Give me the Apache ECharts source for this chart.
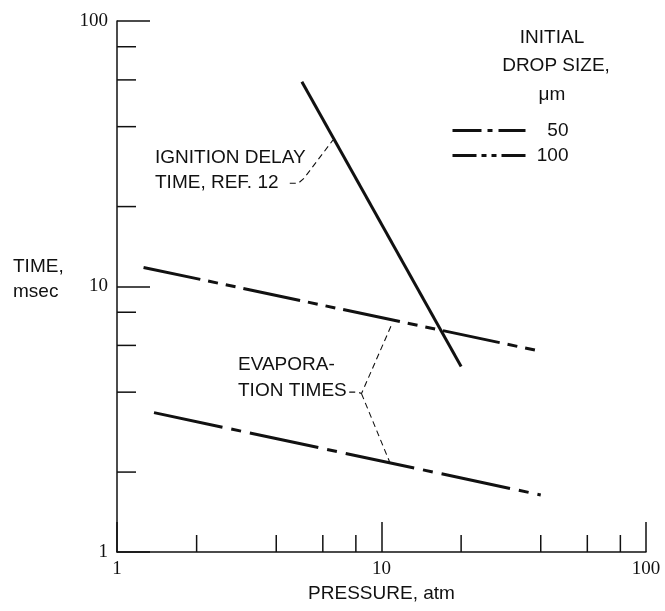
<!DOCTYPE html>
<html>
<head>
<meta charset="utf-8">
<script src="https://cdn.jsdelivr.net/npm/echarts@6/dist/echarts.min.js"></script>
<style>
html,body{margin:0;padding:0;background:#fff;}
#chart{width:665px;height:611px;}
</style>
</head>
<body>
<div id="chart"></div>
<script>
// ---- data (pressure in atm, time in msec) ----
const ignitionP = [5, 20];
const ignitionT = [59, 5];
const evap100P = [1.26, 40];
const evap100T = [11.8, 5.7];
const evap50P = [1.38, 40];
const evap50T = [3.35, 1.64];
// annotation leader lines (data coordinates)
const ignLeaderP = [4.5, 4.85, 5.1, 6.55];
const ignLeaderT = [24.5, 24.5, 25.6, 35.6];
const evapUpperLeaderP = [7.55, 8.15, 8.4, 11.0];
const evapUpperLeaderT = [4.0, 4.0, 3.95, 7.3];
const evapLowerLeaderP = [8.4, 10.8];
const evapLowerLeaderT = [3.95, 2.15];
// axis minor tick values
const xMinorTicks = [2, 4, 6, 8, 20, 40, 60, 80];
const yMinorTicks = [2, 4, 6, 8, 20, 40, 60, 80];
const legendNames = ['50', '100'];

const INK = '#111';
const SANS = '"Liberation Sans", Arial, sans-serif';
const SERIF = '"Liberation Serif", "Times New Roman", serif';

function pairs(xs, ys) { return xs.map((x, i) => [x, ys[i]]); }

const chart = echarts.init(document.getElementById('chart'), null, {renderer: 'canvas'});

function tickSeries(vals, isX, len) {
  return {
    type: 'custom',
    silent: true,
    clip: false,
    z: 5,
    data: vals.map(v => isX ? [v, 1] : [1, v]),
    renderItem: function (params, api) {
      const p = api.coord([api.value(0), api.value(1)]);
      return {
        type: 'line',
        shape: isX ? {x1: p[0], y1: p[1], x2: p[0], y2: p[1] - len}
                   : {x1: p[0], y1: p[1], x2: p[0] + len, y2: p[1]},
        style: {stroke: INK, lineWidth: 1.5}
      };
    }
  };
}

function leader(xs, ys) {
  return {
    type: 'line', silent: true, symbol: 'none', z: 3,
    data: pairs(xs, ys),
    lineStyle: {color: INK, width: 1.1, type: [6, 4]}
  };
}

const option = {
  animation: false,
  backgroundColor: '#fff',
  grid: {left: 117, right: 19, top: 21, bottom: 59, containLabel: false},
  xAxis: {
    type: 'log', logBase: 10, min: 1, max: 100,
    name: 'PRESSURE, atm', nameLocation: 'middle', nameGap: 32,
    nameTextStyle: {fontFamily: SANS, fontSize: 19, color: INK},
    axisLine: {show: true, lineStyle: {color: INK, width: 1.5}},
    axisTick: {show: true, inside: true, length: 30, lineStyle: {color: INK, width: 1.5}},
    axisLabel: {fontFamily: SERIF, fontSize: 19, color: INK, margin: 8},
    splitLine: {show: false},
    minorTick: {show: false}
  },
  yAxis: {
    type: 'log', logBase: 10, min: 1, max: 100,
    axisLine: {show: true, lineStyle: {color: INK, width: 1.5}},
    axisTick: {show: true, inside: true, length: 33, lineStyle: {color: INK, width: 1.5}},
    axisLabel: {fontFamily: SERIF, fontSize: 19, color: INK, margin: 9},
    splitLine: {show: false}
  },
  legend: {
    show: true,
    data: [
      {name: legendNames[0], lineStyle: {width: 3, type: [29, 6, 5, 6, 40]}},
      {name: legendNames[1], lineStyle: {width: 3, type: [24, 5, 5, 5, 5, 5, 40]}}
    ],
    orient: 'vertical',
    left: 446, top: 116,
    itemWidth: 73, itemHeight: 14, itemGap: 6,
    itemStyle: {opacity: 0, borderWidth: 0},
    formatter: function (n) { return '{a|' + n + '}'; },
    textStyle: {
      color: INK, fontFamily: SANS, fontSize: 19,
      rich: {a: {width: 38, align: 'right', fontFamily: SANS, fontSize: 19, color: INK, lineHeight: 20}}
    },
    selectedMode: false
  },
  series: [
    {
      name: 'IGNITION', type: 'line', symbol: 'none', z: 4,
      data: pairs(ignitionP, ignitionT),
      lineStyle: {color: INK, width: 3}
    },
    {
      name: '100', type: 'line', symbol: 'none', z: 4,
      data: pairs(evap100P, evap100T),
      lineStyle: {color: INK, width: 3, type: [58, 8, 10, 8, 10, 8]},
      itemStyle: {color: INK}
    },
    {
      name: '50', type: 'line', symbol: 'none', z: 4,
      data: pairs(evap50P, evap50T),
      lineStyle: {color: INK, width: 3, type: [70, 9, 10, 9]},
      itemStyle: {color: INK}
    },
    leader(ignLeaderP, ignLeaderT),
    leader(evapUpperLeaderP, evapUpperLeaderT),
    leader(evapLowerLeaderP, evapLowerLeaderT),
    tickSeries(xMinorTicks, true, 17),
    tickSeries(yMinorTicks, false, 19)
  ],
  graphic: [
    {type: 'text', x: 13, y: 267, style: {text: 'TIME,', font: '19px ' + SANS, fill: INK, verticalAlign: 'middle'}},
    {type: 'text', x: 13, y: 292, style: {text: 'msec', font: '19px ' + SANS, fill: INK, verticalAlign: 'middle'}},
    {type: 'text', x: 552, y: 38, style: {text: 'INITIAL', font: '19px ' + SANS, fill: INK, align: 'center', verticalAlign: 'middle'}},
    {type: 'text', x: 556, y: 66, style: {text: 'DROP SIZE,', font: '19px ' + SANS, fill: INK, align: 'center', verticalAlign: 'middle'}},
    {type: 'text', x: 552, y: 95, style: {text: 'μm', font: '19px ' + SANS, fill: INK, align: 'center', verticalAlign: 'middle'}},
    {type: 'text', x: 155, y: 158, style: {text: 'IGNITION DELAY', font: '19px ' + SANS, fill: INK, verticalAlign: 'middle'}},
    {type: 'text', x: 155, y: 183, style: {text: 'TIME, REF. 12', font: '19px ' + SANS, fill: INK, verticalAlign: 'middle'}},
    {type: 'text', x: 238, y: 365, style: {text: 'EVAPORA-', font: '19px ' + SANS, fill: INK, verticalAlign: 'middle'}},
    {type: 'text', x: 238, y: 391, style: {text: 'TION TIMES', font: '19px ' + SANS, fill: INK, verticalAlign: 'middle'}}
  ]
};
chart.setOption(option);
</script>
</body>
</html>
